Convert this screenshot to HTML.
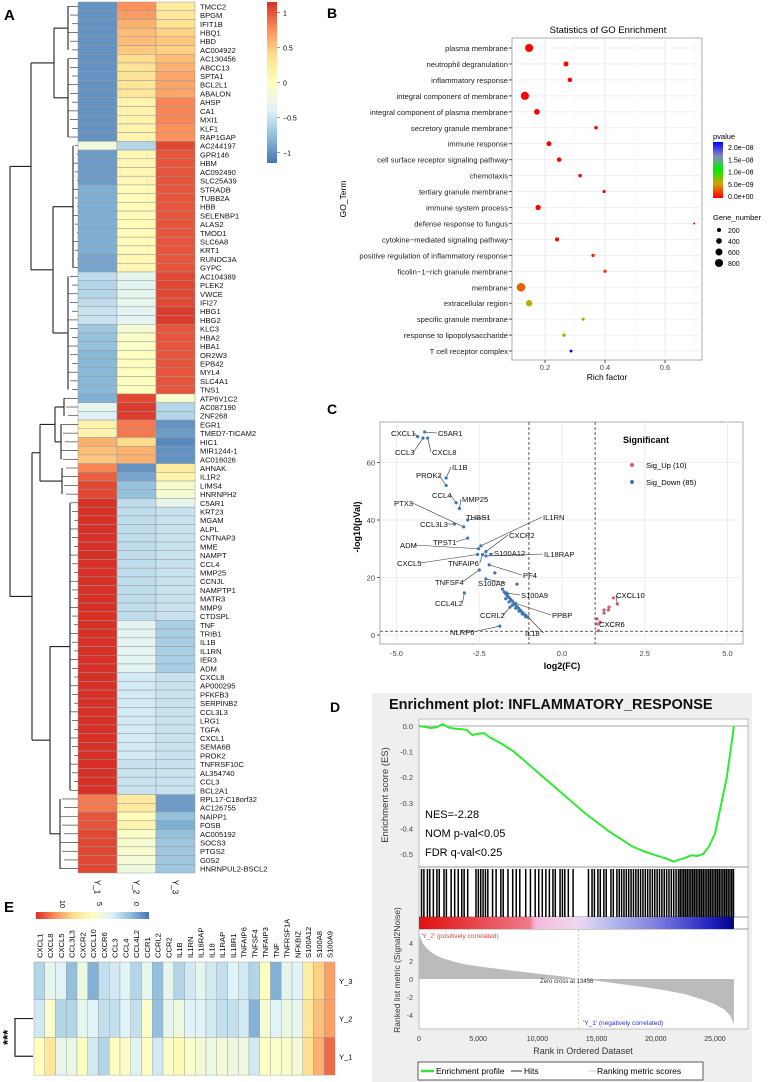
<!DOCTYPE html>
<html><head><meta charset="utf-8"><style>
body{margin:0;background:#fff}
svg{display:block;font-family:"Liberation Sans",sans-serif}
</style></head><body>
<svg id="s" width="768" height="1082" viewBox="0 0 768 1082" xmlns="http://www.w3.org/2000/svg">
<rect width="768" height="1082" fill="#fff"/>
<text x="4" y="20" font-size="15" font-weight="bold">A</text>
<text x="327" y="18" font-size="14" font-weight="bold">B</text>
<text x="327" y="414" font-size="14" font-weight="bold">C</text>
<text x="330" y="712" font-size="14" font-weight="bold">D</text>
<text x="4" y="912" font-size="15" font-weight="bold">E</text>
<g id="gA"></g><g id="gB"></g><g id="gC"></g><g id="gD"></g><g id="gE"></g>
</svg>
<script>
// ---------- Panel A data ----------
const genesA=["TMCC2","BPGM","IFIT1B","HBQ1","HBD","AC004922","AC130456","ABCC13","SPTA1","BCL2L1","ABALON","AHSP","CA1","MXI1","KLF1","RAP1GAP","AC244197","GPR146","HBM","AC092490","SLC25A39","STRADB","TUBB2A","HBB","SELENBP1","ALAS2","TMOD1","SLC6A8","KRT1","RUNDC3A","GYPC","AC104389","PLEK2","VWCE","IFI27","HBG1","HBG2","KLC3","HBA2","HBA1","OR2W3","EPB42","MYL4","SLC4A1","TNS1","ATP6V1C2","AC087190","ZNF268","EGR1","TMED7-TICAM2","HIC1","MIR1244-1","AC016026","AHNAK","IL1R2","LIMS4","HNRNPH2","C5AR1","KRT23","MGAM","ALPL","CNTNAP3","MME","NAMPT","CCL4","MMP25","CCNJL","NAMPTP1","MATR3","MMP9","CTDSPL","TNF","TRIB1","IL1B","IL1RN","IER3","ADM","CXCL8","AP000295","PFKFB3","SERPINB2","CCL3L3","LRG1","TGFA","CXCL1","SEMA6B","PROK2","TNFRSF10C","AL354740","CCL3","BCL2A1","RPL17-C18orf32","AC126755","NAIPP1","FOSB","AC005192","SOCS3","PTGS2","G0S2","HNRNPUL2-BSCL2"];
const samplesA=["Y_1","Y_2","Y_3"];
const y1A=[-1,-1,-1,-1,-1,-1,-1,-1,-1,-1,-1,-1,-1,-1,-1,-1,-0.2,-0.95,-0.95,-0.95,-0.95,-0.85,-0.85,-0.85,-0.85,-0.85,-0.85,-0.85,-0.85,-0.9,-0.9,-0.55,-0.6,-0.6,-0.55,-0.5,-0.5,-0.7,-0.75,-0.75,-0.8,-0.8,-0.8,-0.8,-0.8,-0.85,-0.3,-0.4,0.15,0.15,0.6,0.55,0.5,0.8,0.95,1.05,1.05,1.15,1.15,1.15,1.15,1.15,1.15,1.15,1.15,1.15,1.15,1.15,1.15,1.15,1.15,1.15,1.15,1.15,1.15,1.15,1.15,1.15,1.15,1.15,1.15,1.15,1.15,1.15,1.15,1.15,1.15,1.15,1.15,1.15,1.15,0.85,0.85,1.0,1.0,1.05,1.05,1.05,1.05,1.05];
const y2A=[0.75,0.7,0.6,0.55,0.55,0.5,0.4,0.35,0.35,0.3,0.3,0.15,0.15,0.15,0.15,0.15,-0.6,0.1,0.1,0.1,0.1,0.05,0.05,0.05,0.05,0.05,0.05,0.05,0.05,0.1,0.1,-0.3,-0.35,-0.3,-0.3,-0.35,-0.35,-0.15,-0.05,-0.05,0,0,0,0,0,1.05,1.1,1.1,0.85,0.85,0.4,0.6,0.6,-1,-0.9,-0.75,-0.75,-0.55,-0.55,-0.55,-0.55,-0.55,-0.55,-0.55,-0.55,-0.55,-0.55,-0.55,-0.55,-0.55,-0.55,-0.35,-0.35,-0.35,-0.35,-0.35,-0.35,-0.45,-0.45,-0.45,-0.45,-0.45,-0.45,-0.45,-0.45,-0.45,-0.45,-0.5,-0.5,-0.5,-0.5,0.25,0.25,0.05,0.15,-0.05,-0.1,-0.1,-0.15,-0.2];
const y3A=[0.25,0.3,0.35,0.45,0.5,0.45,0.55,0.6,0.65,0.65,0.65,0.8,0.8,0.8,0.75,0.75,1.05,1.0,1.0,1.0,1.0,1.0,1.0,1.0,1.0,1.0,1.0,1.0,1.0,1.0,1.0,1.05,1.05,1.05,1.05,1.1,1.1,1.0,1.0,1.0,1.0,1.0,1.0,1.0,1.0,-0.1,-0.6,-0.6,-1,-0.95,-1.05,-1,-1,0.25,0.15,-0.1,-0.1,-0.3,-0.5,-0.5,-0.5,-0.5,-0.5,-0.5,-0.5,-0.5,-0.5,-0.5,-0.5,-0.5,-0.5,-0.65,-0.65,-0.65,-0.65,-0.65,-0.65,-0.5,-0.5,-0.5,-0.5,-0.5,-0.5,-0.5,-0.5,-0.5,-0.5,-0.5,-0.5,-0.5,-0.5,-0.95,-0.95,-0.75,-0.85,-0.75,-0.7,-0.7,-0.7,-0.7];
const ticksA=[1,0.5,0,-0.5,-1];
// ---------- Panel B data ----------
const termsB=["plasma membrane","neutrophil degranulation","inflammatory response","integral component of membrane","integral component of plasma membrane","secretory granule membrane","immune response","cell surface receptor signaling pathway","chemotaxis","tertiary granule membrane","immune system process","defense response to fungus","cytokine−mediated signaling pathway","positive regulation of inflammatory response","ficolin−1−rich granule membrane","membrane","extracellular region","specific granule membrane","response to lipopolysaccharide","T cell receptor complex"];
const richB=[0.147,0.27,0.283,0.133,0.173,0.37,0.213,0.247,0.317,0.397,0.177,0.697,0.24,0.36,0.4,0.12,0.147,0.327,0.263,0.287];
const genesB=[800,300,250,800,400,150,300,250,150,130,350,50,200,130,130,900,500,120,150,100];
const pvalB=[0,0,0,0,0,0,0,0,0,0,0,0,0,0.6e-9,1.6e-9,3e-9,6e-9,6.4e-9,6.4e-9,2e-8];
const xticksB=[0.2,0.4,0.6];
const pLegendB=["2.0e−08","1.5e−08","1.0e−08","5.0e−09","0.0e+00"];
const sizeLegendB=[200,400,600,800];
// ---------- Panel C data ----------
const downFC=[-4.36,-4.15,-4.2,-4.06,-3.5,-3.5,-3.2,-3.1,-2.85,-3.25,-2.97,-2.85,-2.52,-2.55,-2.45,-2.3,-2.15,-2.3,-2.4,-2.2,-2.5,-2.3,-2.95,-1.67,-1.4,-1.03,-1.88,-1.57,-1.36,-2.03,-1.75,-1.7,-1.65,-1.6,-1.55,-1.5,-1.45,-1.4,-1.35,-1.3,-1.25,-1.2,-1.15,-1.1,-1.05,-1.7,-1.6,-1.5,-1.4,-1.3,-1.2,-1.1,-1.8,-1.65,-1.45,-1.25];
const downP=[69,70.6,68.5,68.5,54.6,52,46,44,40,38.6,37.6,33.7,30,28,31,29,28,27.5,28,24.4,22.6,19.5,14.6,14.6,11,6.3,3.1,9.7,17.7,21.6,15,14.3,13.6,13,12.4,11.8,11,10.4,9.8,9.2,8.5,7.9,7.3,6.8,6.2,12.6,11.5,10.4,9.3,8.3,7.3,6.4,16,14,10.8,8.3];
const downLab=["CXCL1","C5AR1","CCL3","CXCL8","IL1B","PROK2","CCL4","MMP25","THBS1","CCL3L3","PTX3","TPST1","ADM","CXCL5","IL1RN","CXCR2","S100A12","IL18RAP","TNFAIP6","PF4","TNFSF4","S100A8","CCL4L2","S100A9","PPBP","IL18","NLRP6","CCRL2"];
const downLabPos=[[391,436],[438,436],[395,455],[432,455],[452,470],[416,478],[432,498],[462,502],[466,520],[420,527],[394,506],[433,545],[400,548],[397,566],[543,520],[509,538],[494,556],[544,557],[448,566],[523,578],[435,585],[478,586],[435,606],[521,598],[552,618],[525,636],[450,635],[480,618]];
const upFC=[1.67,1.55,1.42,1.4,1.27,1.27,1.06,1.06,1.1,1.15];
const upP=[10.8,12.9,9.7,8.7,8.7,7.6,5.6,3.8,1.5,4.5];
const xticksC=[-5,-2.5,0,2.5,5];
const yticksC=[0,20,40,60];
// ---------- Panel D data ----------
const esRank=[0,500,1000,1500,2000,2500,3000,3500,4000,4500,5000,5500,6000,7000,8000,9000,10000,11000,12000,13000,14000,15000,16000,17000,18000,19000,20000,21000,21500,22000,22500,23000,23500,24000,24500,25000,25500,26000,26300,26600];
const esVal=[0,-0.004,-0.008,-0.005,0.008,-0.006,-0.01,-0.012,-0.015,-0.035,-0.03,-0.028,-0.045,-0.07,-0.1,-0.14,-0.18,-0.22,-0.26,-0.3,-0.34,-0.375,-0.41,-0.44,-0.47,-0.49,-0.505,-0.52,-0.53,-0.522,-0.515,-0.505,-0.508,-0.5,-0.47,-0.42,-0.31,-0.2,-0.1,0];
const hitRanks=[200,400,700,900,1200,1500,1700,2100,2300,2700,3000,3300,3600,3800,4100,4800,5000,5200,5400,5600,5800,6200,6500,6900,7100,7500,7900,8200,8500,9000,9400,9800,10100,10400,10700,11000,11300,11500,11900,12100,12300,12600,13000,14300,14600,14800,15100,15300,15600,15800,16200,16400,16700,16900,17100,17300,17500,17700,17900,18100,18300,18500,18700,18900,19100,19300,19500,19700,19900,20100,20300,20500,20700,20900,21100,21300,21500,21700,21900,22050,22200,22350,22500,22650,22800,22950,23100,23250,23400,23550,23700,23850,24000,24150,24300,24450,24600,24750,24900,25050,25200,25350,25500,25650,25800,25950,26100,26250,26400,26550];
const metricRank=[0,300,600,1000,1500,2000,3000,4000,5000,6500,8000,10000,12000,13456,15000,17000,19000,21000,22500,24000,25000,25800,26300,26600];
const metricVal=[5,4,3.5,3,2.6,2.3,1.9,1.6,1.4,1.15,0.9,0.6,0.3,0,-0.2,-0.55,-0.9,-1.3,-1.7,-2.3,-2.8,-3.4,-4.1,-5];
const xticksD=[0,5000,10000,15000,20000,25000];
const esTicks=[0,-0.1,-0.2,-0.3,-0.4,-0.5];
const metricTicks=[4,2,0,-2,-4];
// ---------- Panel E data ----------
const genesE=["CXCL1","CXCL8","CXCL5","CCL3L3","CXCR2","CXCL10","CXCR6","CCL3","CCL4","CCL4L2","CCR1","CCRL2","CCR2","IL1B","IL1RN","IL18RAP","IL18","IL1RAP","IL18R1","TNFAIP6","TNFSF4","TNFAIP3","TNF","TNFRSF1A","NFKBIZ","S100A12","S100A8","S100A9"];
const rowsE=["Y_3","Y_2","Y_1"];
const eY3=[2,4,3.5,1,4.5,0.5,2.5,3,3.5,2,4,1,4,2,3,4,3,2.5,3.5,3,2,6,0.5,4,3.5,7.5,9,10.5];
const eY2=[3,5.5,2,2,4,3.5,2.5,2.5,3.5,2.5,5.5,1,4,4.5,3.5,3.5,3,2.5,2.5,3,0.5,5,3.5,4.5,4,8,9.5,10.5];
const eY1=[6,8,4,4.3,6,3,2,6,5.5,3.5,6,3,5.5,6.5,5.5,5,4.5,5,4.5,4.5,3,6,5.5,5.5,5,8.5,10,12];
const ticksE=[10,5,0];

// ---------- helpers ----------
const NS="http://www.w3.org/2000/svg";
function mk(parent,tag,attrs,txt){const e=document.createElementNS(NS,tag);for(const k in attrs)e.setAttribute(k,attrs[k]);if(txt!==undefined)e.textContent=txt;parent.appendChild(e);return e;}
function hex(c){return[parseInt(c.slice(1,3),16),parseInt(c.slice(3,5),16),parseInt(c.slice(5,7),16)];}
function ramp(stops,t){t=Math.max(0,Math.min(1,t));const n=stops.length-1;const i=Math.min(n-1,Math.floor(t*n));const f=t*n-i;const a=hex(stops[i]),b=hex(stops[i+1]);return"rgb("+a.map((v,k)=>Math.round(v+(b[k]-v)*f)).join(",")+")";}
const RdYlBu=["#4575b4","#91bfdb","#e0f3f8","#ffffbf","#fee090","#fc8d59","#d73027"];

// ---------- Panel A ----------
(function(){
const g=document.getElementById("gA");
const top=2,rh=8.71,x0=78,cw=39;
const ry=i=>top+rh*(i+0.5);
const colA=v=>ramp(RdYlBu,(v+1.15)/2.3);
const cols=[y1A,y2A,y3A];
cols.forEach((arr,c)=>{arr.forEach((v,i)=>{
 const r=mk(g,"rect",{x:x0+c*cw,y:top+rh*i,width:cw,height:rh,fill:colA(v),stroke:"#999","stroke-width":0.5});
 
 
});});
genesA.forEach((n,i)=>{const t=mk(g,"text",{x:200,y:ry(i)+3,"font-size":7.6,fill:"#111"},n);
 
 });
samplesA.forEach((s,c)=>{const t=mk(g,"text",{transform:`translate(${x0+c*cw+cw/2-3},880) rotate(90)`,"font-size":8},s);
 
 });
// colorbar
const cb=mk(g,"defs",{});const lg=mk(cb,"linearGradient",{id:"gA1",x1:0,y1:1,x2:0,y2:0});
RdYlBu.forEach((c,i)=>mk(lg,"stop",{offset:i/6,"stop-color":c}));
const bar=mk(g,"rect",{x:267,y:2,width:10,height:161,fill:"url(#gA1)"});


const cy=v=>2+161*(1.15-v)/2.3;
ticksA.forEach(v=>{mk(g,"line",{x1:277,x2:280,y1:cy(v),y2:cy(v),stroke:"#555","stroke-width":0.6});
 const t=mk(g,"text",{x:283,y:cy(v)+3,"font-size":7},String(v).replace("-","−"));
 
 });
// dendrogram
const tree={x:10,c:[
 {x:31,c:[{x:54,c:[{r:[0,5],x:68},{r:[6,15],x:68}]},{x:53,c:[{r:[16,30],x:73},{r:[31,44],x:68}]}]},
 {x:32,c:[{x:40,c:[{x:55,c:[{r:[45,47],x:64},{r:[48,52],x:61}]},{r:[53,56],x:62}]},
          {x:50,c:[{r:[57,90],x:70},{r:[91,99],x:60}]}]}]};
const dg=mk(g,"g",{stroke:"#222","stroke-width":1.1,fill:"none"});


function draw(n){
 if(n.r){const a=ry(n.r[0]),b=ry(n.r[1]);mk(dg,"line",{x1:n.x,x2:n.x,y1:a,y2:b});
  for(let i=n.r[0];i<=n.r[1];i++)mk(dg,"line",{x1:n.x+(i%3)*2,x2:x0,y1:ry(i),y2:ry(i),"stroke-width":0.6});
  return(a+b)/2;}
 const ys=n.c.map(ch=>{const y=draw(ch);mk(dg,"line",{x1:n.x,x2:ch.x,y1:y,y2:y});return y;});
 mk(dg,"line",{x1:n.x,x2:n.x,y1:Math.min(...ys),y2:Math.max(...ys)});
 return(Math.min(...ys)+Math.max(...ys))/2;}
draw(tree);
})();

// ---------- Panel B ----------
(function(){
const g=document.getElementById("gB");
const L=512,R=702,T=38,B=360;
const xs=v=>545+(v-0.2)*300;
const ys=i=>48+i*15.95;
mk(g,"text",{x:608,y:33,"font-size":9.5,"text-anchor":"middle"},"Statistics of GO Enrichment");
const box=mk(g,"rect",{x:L,y:T,width:R-L,height:B-T,fill:"#fff",stroke:"#999","stroke-width":0.8});


[0.1,0.3,0.5,0.7].forEach(v=>mk(g,"line",{x1:xs(v),x2:xs(v),y1:T,y2:B,stroke:"#f2f2f2","stroke-width":0.5}));
xticksB.forEach(v=>{mk(g,"line",{x1:xs(v),x2:xs(v),y1:T,y2:B,stroke:"#e6e6e6","stroke-width":0.8});
 mk(g,"line",{x1:xs(v),x2:xs(v),y1:B,y2:B+3,stroke:"#555"});
 const t=mk(g,"text",{x:xs(v),y:B+10,"font-size":7.5,"text-anchor":"middle",fill:"#444"},v.toFixed(1));
 
 });
mk(g,"text",{x:607,y:380,"font-size":8.5,"text-anchor":"middle"},"Rich factor");
mk(g,"text",{transform:"translate(346,199) rotate(-90)","font-size":8.5,"text-anchor":"middle"},"GO_Term");
const pc=["#ff0000","#d8a000","#00ee00","#8888c0","#0000ff"];
termsB.forEach((t,i)=>{mk(g,"line",{x1:L,x2:R,y1:ys(i),y2:ys(i),stroke:"#ececec","stroke-width":0.8});
 mk(g,"line",{x1:L-3,x2:L,y1:ys(i),y2:ys(i),stroke:"#555"});
 const tx=mk(g,"text",{x:508,y:ys(i)+3,"font-size":7.6,"text-anchor":"end",fill:"#222"},t);
 
 });
termsB.forEach((t,i)=>{const c=mk(g,"circle",{cx:xs(richB[i]),cy:ys(i),r:Math.sqrt(genesB[i])/7,fill:ramp(pc,pvalB[i]/2e-8)});
 
 });
mk(g,"text",{x:713,y:139,"font-size":7.5},"pvalue");
const df=mk(g,"defs",{});const lg=mk(df,"linearGradient",{id:"gB1",x1:0,y1:1,x2:0,y2:0});
pc.forEach((c,i)=>mk(lg,"stop",{offset:i/4,"stop-color":c}));
mk(g,"rect",{x:713,y:142,width:10,height:56,fill:"url(#gB1)"});
pLegendB.forEach((s,i)=>{const t=mk(g,"text",{x:728,y:150+i*12.3,"font-size":7},s);
 
 });
mk(g,"text",{x:713,y:220,"font-size":7.5},"Gene_number");
sizeLegendB.forEach((n,i)=>{const yy=230+i*11;
 const c=mk(g,"circle",{cx:719,cy:yy,r:Math.sqrt(n)/7,fill:"#000"});
 
 
 const t=mk(g,"text",{x:728,y:yy+3,"font-size":7},String(n));
 
 });
})();

// ---------- Panel C ----------
(function(){
const g=document.getElementById("gC");
const L=380,R=743,T=422,B=644;
const xs=v=>562+v*33.1;
const ys=v=>635-v*2.875;
const box=mk(g,"rect",{x:L,y:T,width:R-L,height:B-T,fill:"#fff",stroke:"#999","stroke-width":0.8});


xticksC.forEach(v=>{mk(g,"line",{x1:xs(v),x2:xs(v),y1:T,y2:B,stroke:"#eee"});
 const t=mk(g,"text",{x:xs(v),y:B+12,"font-size":7.5,"text-anchor":"middle",fill:"#444"},v.toFixed(1).replace("-","-"));
 
 });
yticksC.forEach(v=>{mk(g,"line",{x1:L,x2:R,y1:ys(v),y2:ys(v),stroke:"#eee"});
 mk(g,"line",{x1:L-3,x2:L,y1:ys(v),y2:ys(v),stroke:"#555"});
 const t=mk(g,"text",{x:L-5,y:ys(v)+3,"font-size":7.5,"text-anchor":"end",fill:"#444"},String(v));
 
 });
[-1,1].forEach(v=>mk(g,"line",{x1:xs(v),x2:xs(v),y1:T,y2:B,stroke:"#333","stroke-dasharray":"3,2","stroke-width":0.8}));
mk(g,"line",{x1:L,x2:R,y1:ys(1.3),y2:ys(1.3),stroke:"#333","stroke-dasharray":"3,2","stroke-width":0.8});
mk(g,"text",{x:562,y:669,"font-size":9,"font-weight":"bold","text-anchor":"middle"},"log2(FC)");
mk(g,"text",{transform:"translate(360,527) rotate(-90)","font-size":9,"font-weight":"bold","text-anchor":"middle"},"-log10(pVal)");
downLab.forEach((n,i)=>{const p=downLabPos[i];
 mk(g,"line",{x1:p[0]+(p[0]>xs(downFC[i])?-1:n.length*4.4+1),y1:p[1]-3,x2:xs(downFC[i]),y2:ys(downP[i]),stroke:"#333","stroke-width":0.6});
 const t=mk(g,"text",{x:p[0],y:p[1],"font-size":7.6,fill:"#111"},n);
 
 });
downFC.forEach((v,i)=>{const c=mk(g,"circle",{cx:xs(v),cy:ys(downP[i]),r:1.6,fill:"#3f78b0"});
 
 });
upFC.forEach((v,i)=>{const c=mk(g,"circle",{cx:xs(v),cy:ys(upP[i]),r:1.6,fill:"#d65a72"});
 
 });
mk(g,"line",{x1:xs(1.67),y1:ys(10.8),x2:616,y2:596,stroke:"#333","stroke-width":0.6});
mk(g,"text",{x:616,y:598,"font-size":7.6},"CXCL10");
mk(g,"text",{x:599,y:627,"font-size":7.6},"CXCR6");
mk(g,"text",{x:623,y:443,"font-size":9,"font-weight":"bold"},"Significant");
mk(g,"circle",{cx:632,cy:465,r:2,fill:"#d65a72"});
mk(g,"text",{x:646,y:468,"font-size":7.6},"Sig_Up (10)");
mk(g,"circle",{cx:632,cy:482,r:2,fill:"#3f78b0"});
mk(g,"text",{x:646,y:485,"font-size":7.6},"Sig_Down (85)");
})();

// ---------- Panel D ----------
(function(){
const g=document.getElementById("gD");
const bg=mk(g,"rect",{x:372,y:693,width:380,height:389,fill:"#efefef"});


mk(g,"text",{x:389,y:709,"font-size":14.5,"font-weight":"bold",fill:"#111"},"Enrichment plot: INFLAMMATORY_RESPONSE");
const L=419,R=748;
const xs=r=>419+r*0.01184;
const yes=v=>726-v*256;
const ym=v=>979-v*9;
mk(g,"rect",{x:L,y:719,width:R-L,height:310,fill:"#fff",stroke:"#999","stroke-width":0.6});
mk(g,"line",{x1:L,x2:R,y1:867,y2:867,stroke:"#999"});
mk(g,"line",{x1:L,x2:R,y1:917,y2:917,stroke:"#999"});
mk(g,"line",{x1:L,x2:R,y1:929,y2:929,stroke:"#999"});
mk(g,"line",{x1:L,x2:R,y1:yes(0),y2:yes(0),stroke:"#aaa"});
esTicks.forEach(v=>{const t=mk(g,"text",{x:413,y:yes(v)+3,"font-size":7.5,"text-anchor":"end",fill:"#444"},v.toFixed(1));
 
 });
mk(g,"text",{transform:"translate(388,795) rotate(-90)","font-size":9.5,"text-anchor":"middle",fill:"#333"},"Enrichment score (ES)");
const pts=esRank.map((r,i)=>xs(r).toFixed(1)+","+yes(esVal[i]).toFixed(1)).join(" ");
const pl=mk(g,"polyline",{points:pts,fill:"none",stroke:"#33e833","stroke-width":2});


mk(g,"text",{x:425,y:818,"font-size":11},"NES=-2.28");
mk(g,"text",{x:425,y:837,"font-size":11},"NOM p-val<0.05");
mk(g,"text",{x:425,y:856,"font-size":11},"FDR q-val<0.25");
hitRanks.forEach(r=>{const l=mk(g,"rect",{x:xs(r)-0.6,y:869,width:1.5,height:48,fill:"#000"});
 
 });
const df=mk(g,"defs",{});const lg=mk(df,"linearGradient",{id:"gD1",x1:0,y1:0,x2:1,y2:0});
[["0","#e01010"],["0.35","#f07a8a"],["0.37","#f4b8dc"],["0.5","#f0d8f0"],["0.55","#d0d0f0"],["0.75","#8080e0"],["0.93","#2020c0"],["1","#000080"]].forEach(s=>mk(lg,"stop",{offset:s[0],"stop-color":s[1]}));
mk(g,"rect",{x:L,y:917,width:xs(26600)-L,height:12,fill:"url(#gD1)"});
mk(g,"text",{x:421,y:938,"font-size":6.5,fill:"#e04040"},"'Y_2' (positively correlated)");
let ap="M"+xs(0)+","+ym(0)+" "+metricRank.map((r,i)=>"L"+xs(r).toFixed(1)+","+ym(metricVal[i]).toFixed(1)).join(" ")+" L"+xs(26600)+","+ym(0)+"Z";
const ar=mk(g,"path",{d:ap,fill:"#bbbbbb"});


mk(g,"line",{x1:xs(13456),x2:xs(13456),y1:930,y2:1029,stroke:"#aaa","stroke-dasharray":"2,2","stroke-width":0.6});
mk(g,"text",{x:540,y:983,"font-size":6,fill:"#333"},"Zero cross at 13456");
mk(g,"text",{x:583,y:1025,"font-size":6.5,fill:"#3030d0"},"'Y_1' (negatively correlated)");
metricTicks.forEach(v=>{const t=mk(g,"text",{x:413,y:ym(v)+3,"font-size":7,"text-anchor":"end",fill:"#444"},String(v));
 
 });
mk(g,"text",{transform:"translate(400,970) rotate(-90)","font-size":8.5,"text-anchor":"middle",fill:"#333"},"Ranked list metric (Signal2Noise)");
xticksD.forEach(v=>{const t=mk(g,"text",{x:xs(v),y:1041,"font-size":7,"text-anchor":"middle",fill:"#333"},v.toLocaleString("en-US"));
 
 });
mk(g,"text",{x:583,y:1054,"font-size":9,"text-anchor":"middle",fill:"#333"},"Rank in Ordered Dataset");
const lb=mk(g,"rect",{x:418,y:1062,width:285,height:18,fill:"#fff",stroke:"#333","stroke-width":0.8});


mk(g,"line",{x1:421,x2:434,y1:1071,y2:1071,stroke:"#33e833","stroke-width":2.5});
mk(g,"text",{x:436,y:1074,"font-size":8.5},"Enrichment profile");
mk(g,"line",{x1:511,x2:522,y1:1071,y2:1071,stroke:"#333","stroke-width":1});
mk(g,"text",{x:524,y:1074,"font-size":8.5},"Hits");
mk(g,"line",{x1:588,x2:597,y1:1071,y2:1071,stroke:"#ccc","stroke-width":1});
mk(g,"text",{x:597,y:1074,"font-size":8.5},"Ranking metric scores");
})();

// ---------- Panel E ----------
(function(){
const g=document.getElementById("gE");
const x0=34,top=962,cw=301/28,rh=37.7;
const colE=v=>ramp(RdYlBu,(v+1.6)/15.2);
[eY3,eY2,eY1].forEach((arr,r)=>arr.forEach((v,c)=>{
 const rc=mk(g,"rect",{x:x0+c*cw,y:top+r*rh,width:cw,height:rh,fill:colE(v),stroke:"#999","stroke-width":0.4});
 
 }));
genesE.forEach((n,c)=>{const t=mk(g,"text",{transform:`translate(${x0+c*cw+cw/2+3},958) rotate(-90)`,"font-size":7.6},n);
 
 });
rowsE.forEach((n,r)=>{const t=mk(g,"text",{x:339,y:top+r*rh+rh/2+3,"font-size":7.6},n);
 
 });
const df=mk(g,"defs",{});const lg=mk(df,"linearGradient",{id:"gE1",x1:1,y1:0,x2:0,y2:0});
RdYlBu.forEach((c,i)=>mk(lg,"stop",{offset:i/6,"stop-color":c}));
mk(g,"rect",{x:36,y:912,width:113,height:7,fill:"url(#gE1)"});
const cx=v=>137-v*7.4;
ticksE.forEach(v=>{const t=mk(g,"text",{transform:`translate(${cx(v)-3},904) rotate(90)`,"font-size":7.5,"text-anchor":"middle"},String(v));
 
 });
const dg=mk(g,"path",{d:`M33,${top+rh*1.5} H15 V${top+rh*2.5} H33`,fill:"none",stroke:"#222","stroke-width":1.2});


mk(g,"text",{transform:`translate(12,${top+rh*2}) rotate(-90)`,"font-size":13,"font-weight":"bold","text-anchor":"middle"},"***");
})();
</script>
</body></html>
